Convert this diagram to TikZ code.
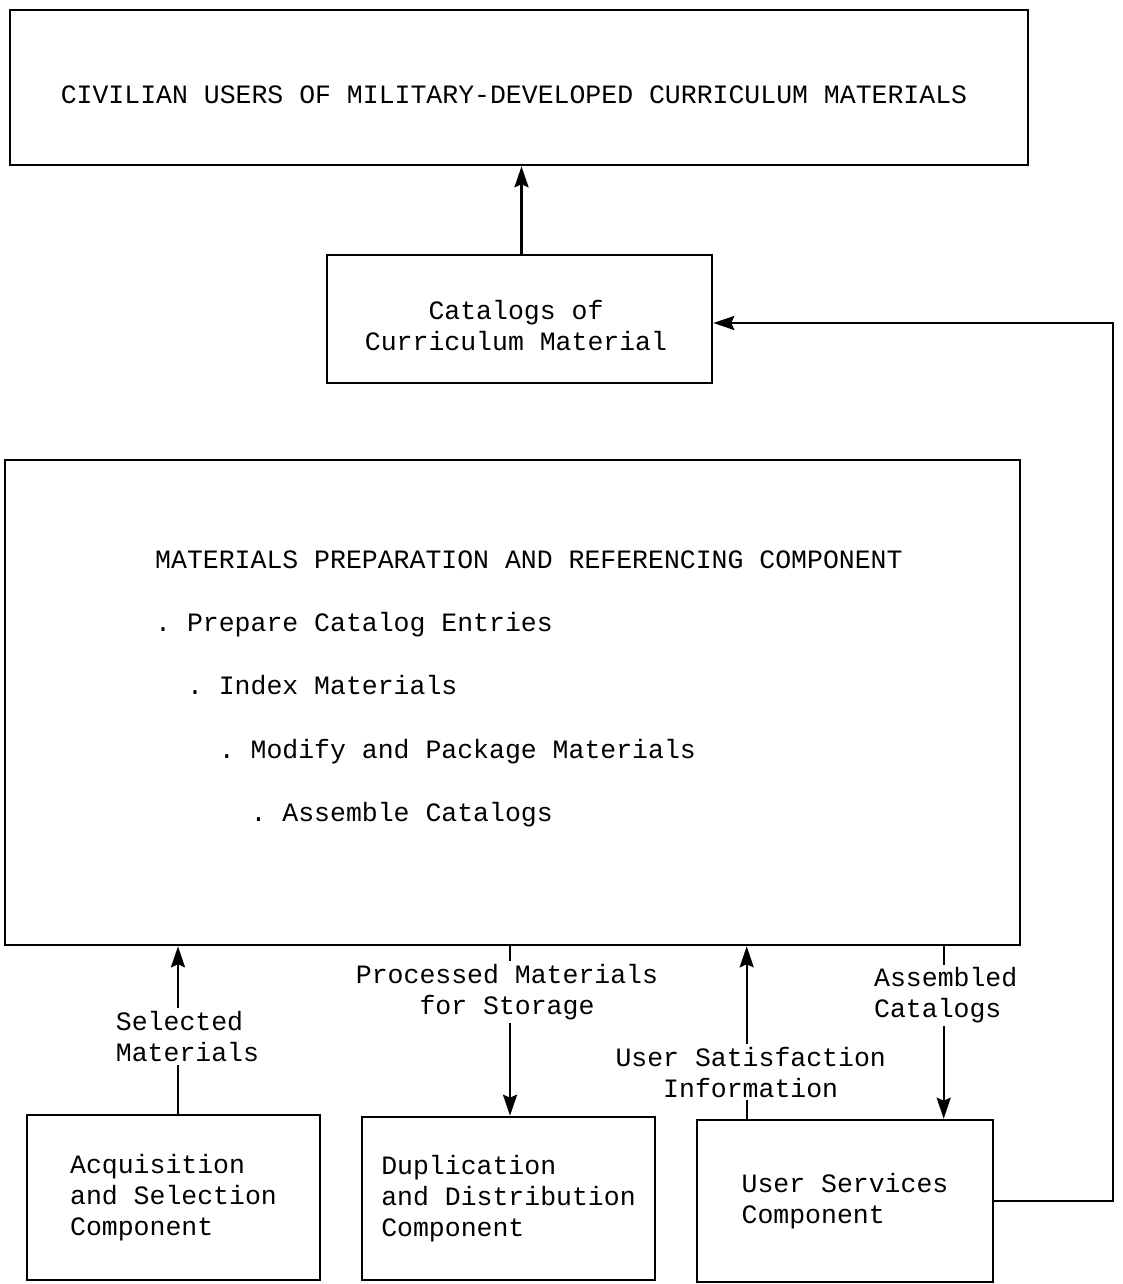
\documentclass[tikz,border=0pt]{standalone}
\usepackage{fontspec}
\setmonofont{Liberation Mono}
\usetikzlibrary{arrows.meta}
\begin{document}
\begin{tikzpicture}[x=1pt,y=-1pt,
  every node/.style={font=\ttfamily\fontsize{26.5}{31}\selectfont, text=black},
  box/.style={draw, line width=2.6pt, inner sep=0pt, align=left},
  flowlabel/.style={fill=white, inner sep=3pt, align=left},
  arr/.style={line width=2.4pt, -{Stealth[length=21pt,width=14pt,inset=3pt]}}]
\useasboundingbox (0,0) rectangle (1122,1284);

% boxes
\node[box, minimum width=1018pt, minimum height=155pt] (civ) at (519,87.5) {};
\node (civtext) at (514,95) {CIVILIAN USERS OF MILITARY-DEVELOPED CURRICULUM MATERIALS};
\node[box, minimum width=385pt, minimum height=128pt] (cat) at (519.5,319) {};
\node[align=center] (cattext) at (516,326) {Catalogs of\\Curriculum Material};
\node[box, minimum width=1015pt, minimum height=485pt] (prep) at (512.5,702.5) {};
\node[anchor=base west, align=left, inner sep=0pt,
      font=\ttfamily\fontsize{26.5}{63.4}\selectfont] (preptext) at (155,821.6)
  {MATERIALS PREPARATION AND REFERENCING COMPONENT\\
   . Prepare Catalog Entries\\
   \ \ . Index Materials\\
   \ \ \ \ . Modify and Package Materials\\
   \ \ \ \ \ \ . Assemble Catalogs};
\node[box, minimum width=293pt, minimum height=165pt] (acq) at (173.5,1197.5)
  {Acquisition\\and Selection\\Component};
\node[box, minimum width=293pt, minimum height=163pt] (dup) at (508.5,1198.5)
  {Duplication\\and Distribution\\Component};
\node[box, minimum width=296pt, minimum height=162pt] (us) at (845,1201)
  {User Services\\Component};

% flows between components
\draw[arr] ([xshift=2pt]cat.north) -- ([xshift=2pt]cat.north |- civ.south);
\draw[arr] ([xshift=4.5pt]acq.north) -- ([xshift=4.5pt]acq.north |- prep.south)
  node[flowlabel, pos=0.46, xshift=9.5pt] (sel) {Selected\\Materials};
\draw[arr] ([xshift=1.5pt]dup.north |- prep.south) -- ([xshift=1.5pt]dup.north)
  node[flowlabel, align=center, pos=0.27, xshift=-3pt] (proc) {Processed Materials\\for Storage};
\draw[arr] ([xshift=51pt]us.north west) -- ([xshift=51pt]us.north west |- prep.south)
  node[flowlabel, align=center, pos=0.27, xshift=4pt] (sat) {User Satisfaction\\Information};
\draw[arr] ([xshift=248pt]us.north west |- prep.south) -- ([xshift=248pt]us.north west)
  node[flowlabel, pos=0.285, xshift=2pt] (asm) {Assembled\\Catalogs};

% catalog feedback loop
\coordinate (turn) at (1113,323);
\draw[arr] (us.east) -| (turn) -- (turn -| cat.east);
\end{tikzpicture}
\end{document}
